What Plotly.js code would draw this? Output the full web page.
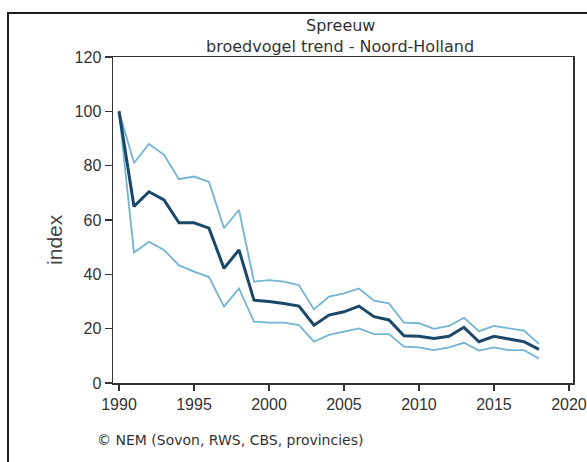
<!DOCTYPE html>
<html>
<head>
<meta charset="utf-8">
<script src="https://cdn.plot.ly/plotly-3.0.1.min.js"></script>
<style>
  html, body { margin: 0; padding: 0; background: #fff; overflow: hidden; }
  #wrap { position: relative; width: 587px; height: 462px; }
  #frame { position: absolute; left: 7px; top: 12px; width: 600px; height: 480px; border: 2px solid #1e1e1e; box-sizing: border-box; pointer-events: none; }
  #chart { position: absolute; left: 0; top: 0; width: 587px; height: 462px; }
</style>
</head>
<body>
<div id="wrap">
  <div id="chart"></div>
  <div id="frame"></div>
</div>
<script>
const years = [1990, 1991, 1992, 1993, 1994, 1995, 1996, 1997, 1998, 1999,
               2000, 2001, 2002, 2003, 2004, 2005, 2006, 2007, 2008, 2009,
               2010, 2011, 2012, 2013, 2014, 2015, 2016, 2017, 2018];
const indexTrend = [100, 65, 70.4, 67.4, 59, 59, 57, 42.2, 49, 30.5,
                    30, 29.3, 28.3, 21.3, 25, 26.2, 28.3, 24.4, 23.2, 17.4,
                    17.2, 16.4, 17.2, 20.5, 15.2, 17.2, 16.2, 15.2, 12.4];
const upperBound = [100, 81, 88, 84, 75, 76, 74, 57, 63.7, 37.3,
                    37.9, 37.3, 36, 27.1, 31.8, 33, 34.8, 30.3, 29.3, 22.2,
                    22, 19.9, 21, 24, 19.1, 21, 20.1, 19.3, 14.4];
const lowerBound = [100, 48, 52, 49, 43.3, 41, 39, 28.1, 34.8, 22.6,
                    22.2, 22.2, 21.3, 15.2, 17.7, 18.9, 20.1, 18, 18, 13.4,
                    13.1, 12.1, 13.1, 14.8, 11.9, 13.1, 12.1, 12.1, 9];
const xTicks = [1990, 1995, 2000, 2005, 2010, 2015, 2020];
const yTicks = [0, 20, 40, 60, 80, 100, 120];
const titleLine1 = "Spreeuw";
const titleLine2 = "broedvogel trend - Noord-Holland";
const yTitle = "index";
const credit = "© NEM (Sovon, RWS, CBS, provincies)";

const bandColor = "#72b4d3";
const mainColor = "#1b4869";

const traces = [
  { x: years, y: upperBound, type: "scatter", mode: "lines",
    line: { color: bandColor, width: 1.8 }, hoverinfo: "skip" },
  { x: years, y: lowerBound, type: "scatter", mode: "lines",
    line: { color: bandColor, width: 1.8 }, hoverinfo: "skip" },
  { x: years, y: indexTrend, type: "scatter", mode: "lines",
    line: { color: mainColor, width: 3 }, hoverinfo: "skip" }
];

const tickFont = { family: "Liberation Sans, Arial, sans-serif", size: 16, color: "#333" };
const labelFont = { family: "DejaVu Sans, sans-serif", size: 16, color: "#333" };

const layout = {
  width: 587, height: 462,
  margin: { l: 113, r: 14, t: 57, b: 79 },
  paper_bgcolor: "#fff", plot_bgcolor: "#fff",
  showlegend: false,
  xaxis: {
    range: [1989.6, 2020.27], tickvals: xTicks, ticktext: xTicks.map(String),
    ticks: "outside", ticklen: 6, tickwidth: 1.5, tickcolor: "#333",
    showline: true, linecolor: "#333", linewidth: 1.5, mirror: true,
    showgrid: false, zeroline: false, tickfont: tickFont
  },
  yaxis: {
    range: [0, 120], tickvals: yTicks, ticktext: yTicks.map(String),
    ticks: "outside", ticklen: 7, tickwidth: 1.5, tickcolor: "#333",
    showline: true, linecolor: "#333", linewidth: 1.5, mirror: true,
    showgrid: false, zeroline: false, tickfont: tickFont
  },
  annotations: [
    { text: titleLine1, xref: "paper", yref: "paper", x: 0.4935, y: 1.096,
      xanchor: "center", yanchor: "middle", showarrow: false, font: labelFont },
    { text: titleLine2, xref: "paper", yref: "paper", x: 0.4935, y: 1.031,
      xanchor: "center", yanchor: "middle", showarrow: false, font: labelFont },
    { text: yTitle, xref: "paper", yref: "paper", x: -0.126, y: 0.439,
      xanchor: "center", yanchor: "middle", textangle: -90, showarrow: false,
      font: { family: "Liberation Sans, Arial, sans-serif", size: 21, color: "#444" } },
    { text: credit, xref: "paper", yref: "paper", x: -0.039, y: -0.175,
      xanchor: "left", yanchor: "middle", showarrow: false,
      font: { family: "DejaVu Sans, sans-serif", size: 14, color: "#333" } }
  ]
};

Plotly.newPlot("chart", traces, layout, { displayModeBar: false, staticPlot: true });
</script>
</body>
</html>
